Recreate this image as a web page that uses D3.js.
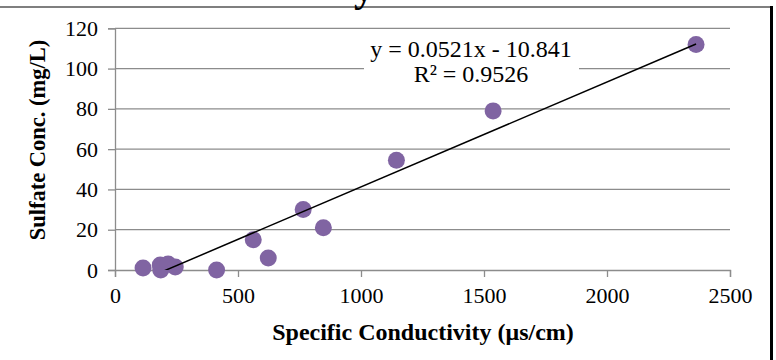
<!DOCTYPE html>
<meta charset="utf-8">
<script src="https://d3js.org/d3.v7.min.js"></script>
<style>
  body { margin: 0; background: #fff; }
  text { font-family: "Liberation Serif", "Times New Roman", serif; }
</style>
<svg id="chart" width="776" height="360"></svg>
<script>
// measured values (specific conductivity vs sulfate)
var conductivity = [114, 184, 186, 216, 245, 413, 562, 623, 765, 847, 1144, 1537, 2362];
var sulfate      = [1, 2.5, 0, 3, 1.5, 0, 15, 6, 30, 21, 54.5, 79, 112];
var xTicks = [0, 500, 1000, 1500, 2000, 2500];
var yTicks = [0, 20, 40, 60, 80, 100, 120];
var slope = 0.0521, intercept = -10.841;
var eqLines = ["y = 0.0521x - 10.841", "R\u00b2 = 0.9526"];

const svg = d3.select("#chart");

const x = d3.scaleLinear().domain([0, 2500]).range([115, 730]);
const y = d3.scaleLinear().domain([0, 120]).range([270, 28.3]);

// frame bits from the slide
svg.append("line").attr("x1", 0).attr("x2", 772).attr("y1", 7).attr("y2", 7)
  .style("stroke", "#555").style("stroke-width", 1.5);
svg.append("line").attr("x1", 771.5).attr("x2", 771.5).attr("y1", 6).attr("y2", 360)
  .style("stroke", "#000").style("stroke-width", 3);
svg.append("text").attr("x", 354).attr("y", 1).style("font-size", "40px")
  .style("font-weight", "bold").text("y");

// gridlines
svg.append("g").selectAll("line")
  .data(yTicks.filter(d => d > 0))
  .enter().append("line")
    .attr("x1", x(0)).attr("x2", x(2500))
    .attr("y1", d => y(d)).attr("y2", d => y(d))
    .style("stroke", "#8c8c8c").style("stroke-width", 1.3);

// axes
const yAxis = svg.append("g").attr("transform", `translate(${x(0)},0)`)
  .call(d3.axisLeft(y).tickValues(yTicks).tickFormat(d3.format("d")).tickSize(7).tickPadding(10));
const xAxis = svg.append("g").attr("transform", `translate(0,${y(0)})`)
  .call(d3.axisBottom(x).tickValues(xTicks).tickFormat(d3.format("d")).tickSize(7).tickPadding(10));
[xAxis, yAxis].forEach(a => {
  a.attr("font-size", null).attr("font-family", null);
  a.selectAll("path, line").style("stroke", "#8c8c8c").style("stroke-width", 1.3);
  a.selectAll("text").style("font-size", "22px").style("fill", "#000");
});

// points
svg.append("g").selectAll("circle")
  .data(conductivity)
  .enter().append("circle")
    .attr("cx", d => x(d))
    .attr("cy", (d, i) => y(sulfate[i]))
    .attr("r", 8.5)
    .attr("fill", "#8064a2");

// trendline clipped to the plot area
svg.append("clipPath").attr("id", "plot")
  .append("rect").attr("x", x(0)).attr("y", y(120)).attr("width", x(2500) - x(0)).attr("height", y(0) - y(120));
const xMin = d3.min(conductivity), xMax = d3.max(conductivity);
svg.append("line")
  .attr("clip-path", "url(#plot)")
  .attr("x1", x(xMin)).attr("y1", y(slope * xMin + intercept))
  .attr("x2", x(xMax)).attr("y2", y(slope * xMax + intercept))
  .style("stroke", "#000").style("stroke-width", 1.5);

// equation label
svg.append("rect").attr("x", 364).attr("y", 32).attr("width", 215).attr("height", 56).attr("fill", "#fff");
svg.append("g").selectAll("text")
  .data(eqLines)
  .enter().append("text")
    .attr("x", 471).attr("y", (d, i) => 57 + i * 25)
    .attr("text-anchor", "middle")
    .style("font-size", "24px")
    .text(d => d);

// axis titles
svg.append("text").attr("x", 423).attr("y", 340).attr("text-anchor", "middle")
  .style("font-size", "24px").style("font-weight", "bold")
  .text("Specific Conductivity (\u03bcs/cm)");
svg.append("text").attr("transform", "translate(45,140) rotate(-90)")
  .attr("text-anchor", "middle")
  .style("font-size", "22.5px").style("font-weight", "bold")
  .text("Sulfate Conc. (mg/L)");
</script>
